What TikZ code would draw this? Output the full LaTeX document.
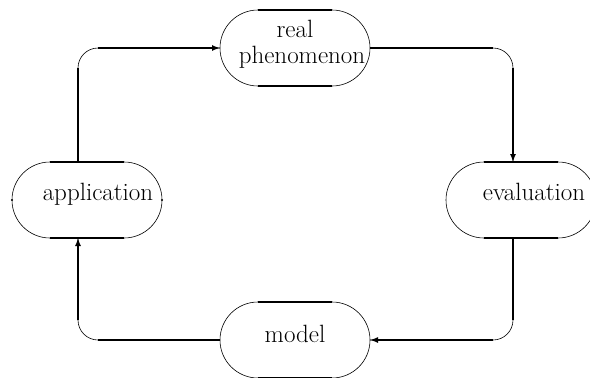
\documentclass[tikz,border=0pt]{standalone}
\usetikzlibrary{shapes.misc,arrows.meta}
\tikzset{
  stadium/.style={rounded rectangle, draw, line width=0.6pt, minimum width=150pt,
    minimum height=76pt, inner sep=0pt, outer sep=0pt},
  flat/.style={line width=1.4pt},
  conn/.style={line width=0.6pt, rounded corners=20pt},
  connbold/.style={line width=1.4pt},
  tip/.style={-{Latex[length=8pt,width=6pt]}},
  lbl/.style={font=\fontsize{25}{28}\selectfont, anchor=base, inner sep=0pt}
}
\begin{document}
\begin{tikzpicture}[x=1pt,y=-1pt]
\useasboundingbox (0,0) rectangle (590,378);

% the four stages of the cycle
\node[stadium] (rp)   at (295,48)  {};
\node[stadium] (app)  at (87,200)  {};
\node[stadium] (eva)  at (521,200) {};
\node[stadium] (mod)  at (295,340) {};

% heavier flat edges of each outline
\foreach \n in {rp,app,eva,mod}{
  \draw[flat] ([xshift=-37pt]\n.north) -- ([xshift=37pt]\n.north);
  \draw[flat] ([xshift=-37pt]\n.south) -- ([xshift=37pt]\n.south);
}

% small marks on the sides of the application box
\fill (app.west) circle (1.1pt);
\fill (app.east) circle (1.1pt);

% labels
\node[lbl] (trp1) at (295,37)  {real};
\node[lbl] (trp2) at (302,63)  {phenomenon};
\node[lbl] (tapp) at (98,200)  {application};
\node[lbl] (teva) at (534,200) {evaluation};
\node[lbl] (tmod) at (295,342) {model};

% connector end points
\coordinate (appT) at ([xshift=-9pt]app.north);
\coordinate (appB) at ([xshift=-9pt]app.south);
\coordinate (evaT) at ([xshift=-8pt]eva.north);
\coordinate (evaB) at ([xshift=-8pt]eva.south);
\coordinate (k1) at (appT |- rp.west);
\coordinate (k2) at (evaT |- rp.east);
\coordinate (k3) at (evaB |- mod.east);
\coordinate (k4) at (appB |- mod.west);

% application -> real phenomenon
\draw[conn] (appT) -- (k1) -- (rp.west);
\draw[connbold] (appT) -- ([yshift=-20pt]k1);
\draw[connbold,tip] ([xshift=20pt]k1) -- (rp.west);

% real phenomenon -> evaluation
\draw[conn] (rp.east) -- (k2) -- (evaT);
\draw[connbold] (rp.east) -- ([xshift=-20pt]k2);
\draw[connbold,tip] ([yshift=-20pt]k2) -- (evaT);

% evaluation -> model
\draw[conn] (evaB) -- (k3) -- (mod.east);
\draw[connbold] (evaB) -- ([yshift=20pt]k3);
\draw[connbold,tip] ([xshift=-20pt]k3) -- (mod.east);

% model -> application
\draw[conn] (mod.west) -- (k4) -- (appB);
\draw[connbold] (mod.west) -- ([xshift=20pt]k4);
\draw[connbold,tip] ([yshift=20pt]k4) -- (appB);
\end{tikzpicture}
\end{document}
